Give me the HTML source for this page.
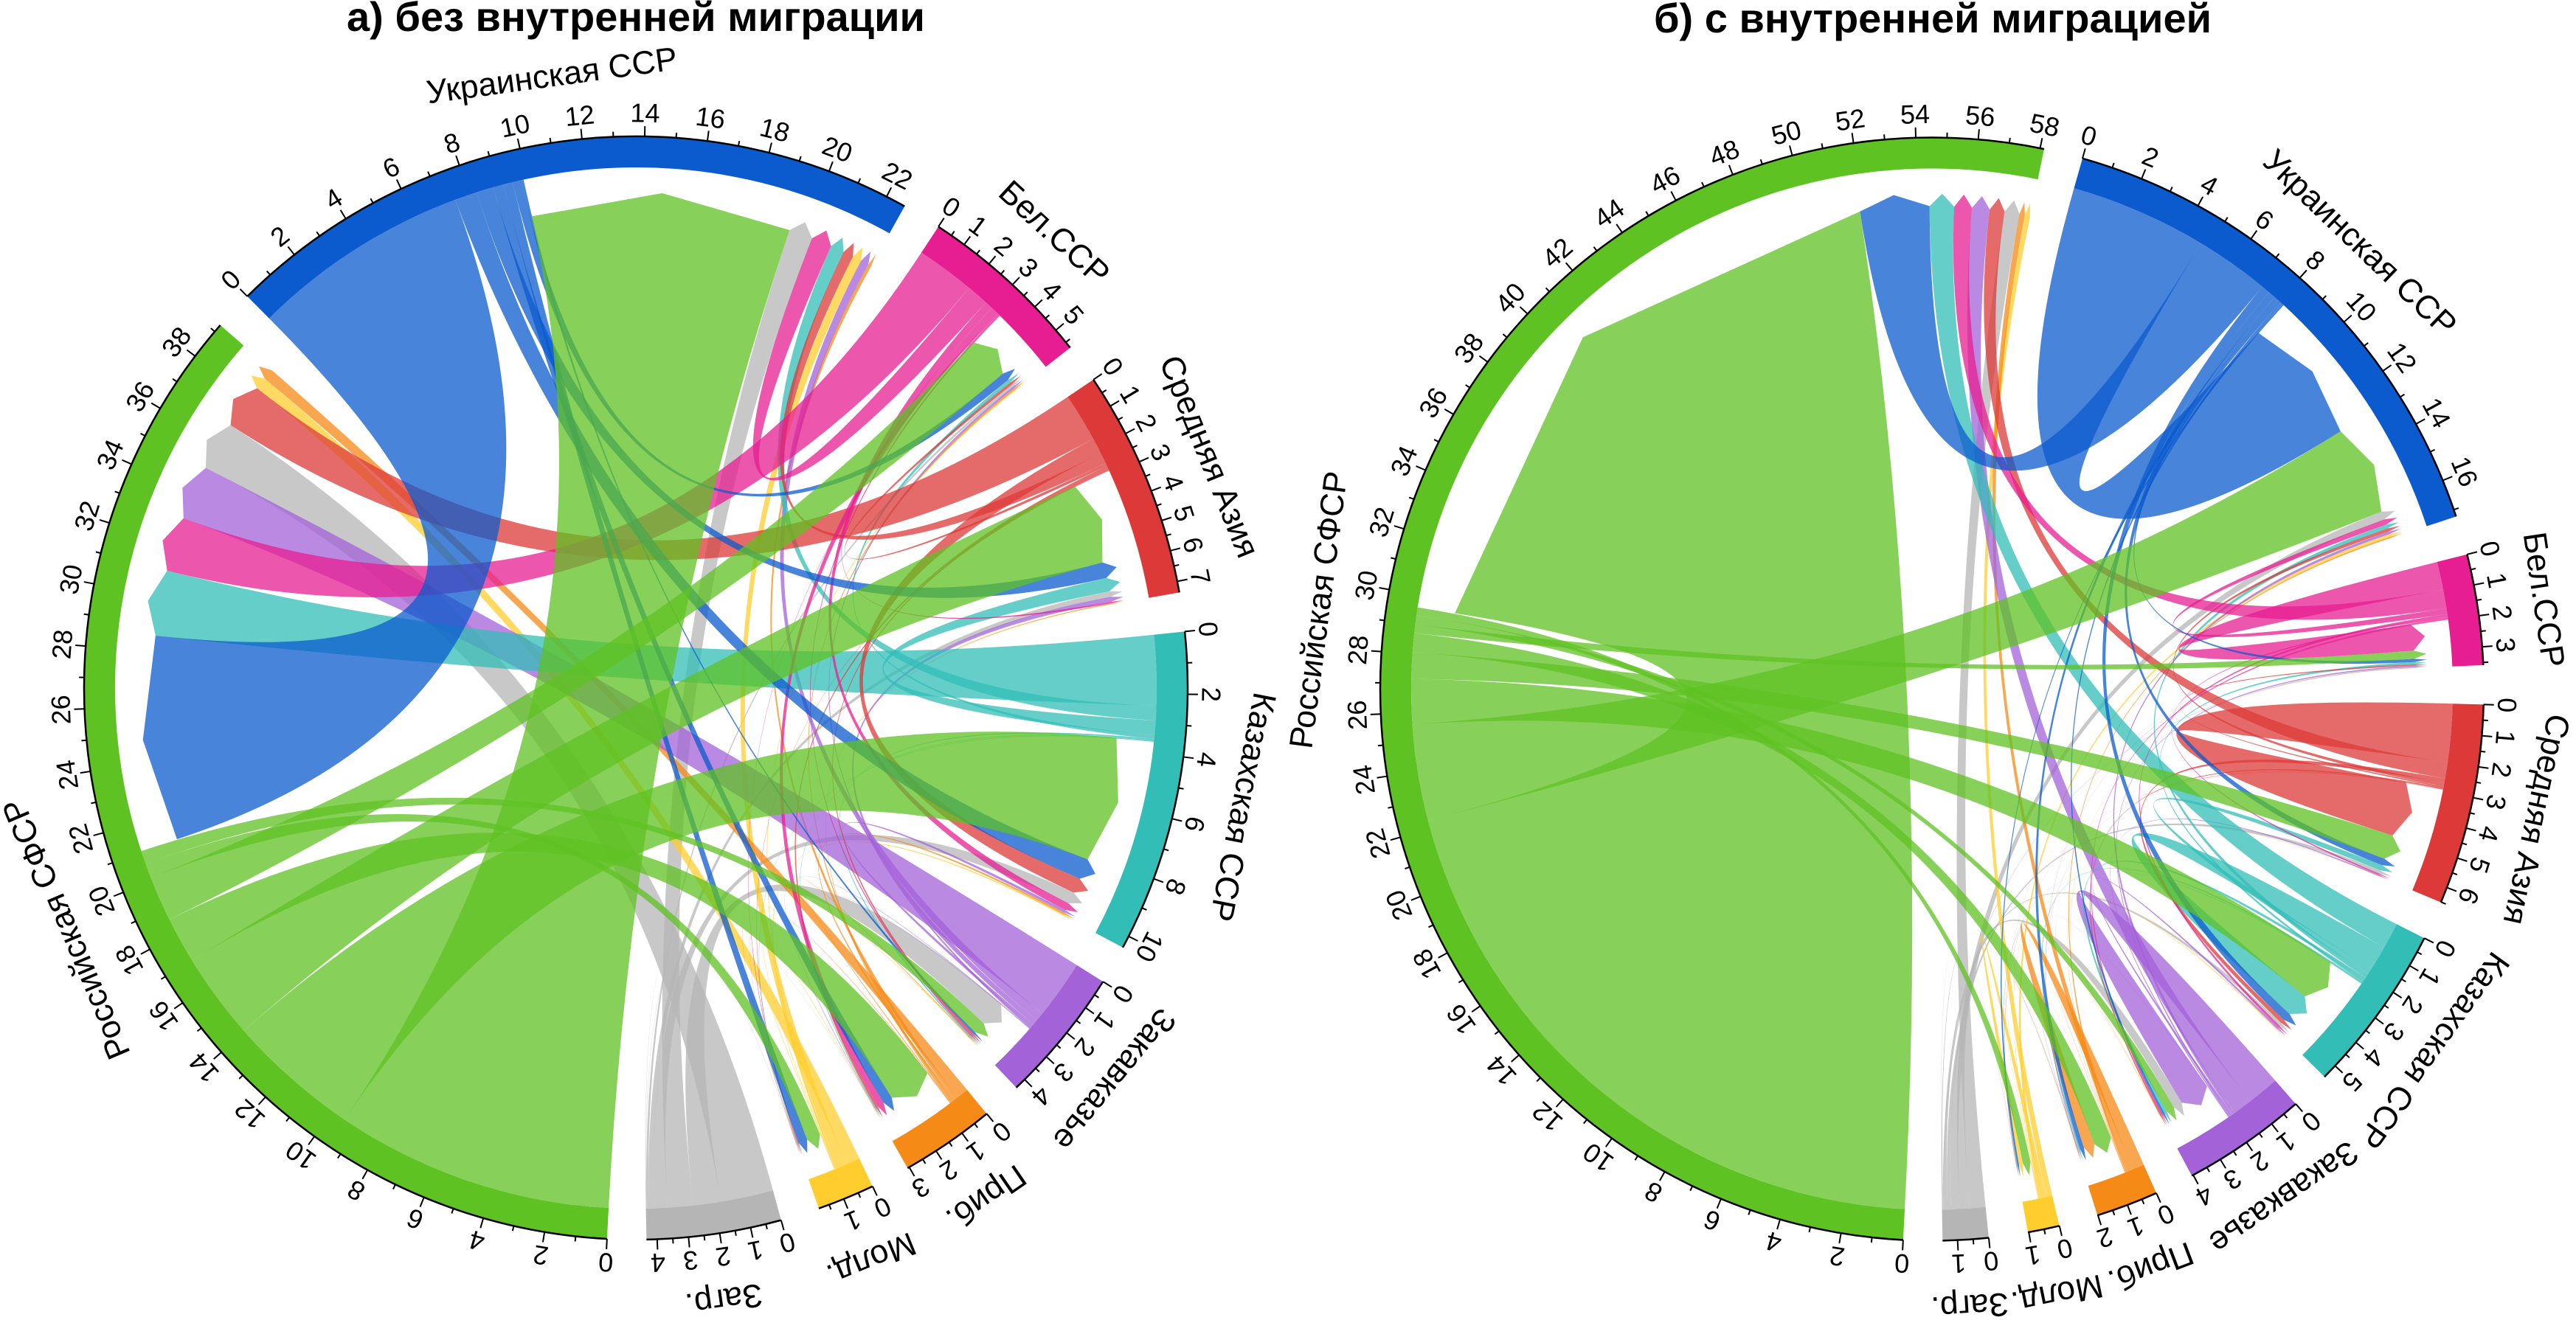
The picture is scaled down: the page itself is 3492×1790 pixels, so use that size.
<!DOCTYPE html>
<html lang="ru">
<head>
<meta charset="utf-8">
<title>Миграция: хордовые диаграммы</title>
<style>
html,body{margin:0;padding:0;background:#fff;}
svg{display:block;}
text{font-family:"Liberation Sans","Noto Sans CJK SC",sans-serif;fill:#000;}
.title{font-size:56px;font-weight:700;text-anchor:middle;}
.tick-label{font-size:36px;text-anchor:middle;dominant-baseline:central;}
.sector-label{font-size:44.5px;text-anchor:middle;dominant-baseline:central;}
</style>
</head>
<body>
<svg id="figure" xmlns="http://www.w3.org/2000/svg" width="3492" height="1790" viewBox="0 0 3492 1790">
  <text class="title" x="862" y="42">а) без внутренней миграции</text>
  <text class="title" x="2620" y="44">б) с внутренней миграцией</text>
  <g id="panelA"></g>
  <g id="panelB"></g>
</svg>
<script>
const sectorNames = ['Российская СФСР','Украинская ССР','Бел.ССР','Средняя Азия','Казахская ССР','Закавказье','Приб.','Молд.','Загр.'];
const sectorSlugs = ['russia','ukraine','belarus','central-asia','kazakhstan','caucasus','baltics','moldova','abroad'];
const sectorColors = ['#5FC223','#0B5BCE','#E71E92','#DC3938','#32BDB7','#A362D8','#F68A16','#FFCE2E','#B5B5B5'];

// Flows in % of total; rows = origin, columns = destination (same order as sectorNames)
const flowsWithoutInternal = [
  [0, 9.5, 1.55, 2.95, 4.55, .45, 1.57, .5, 0],
  [7.5, 0, .3, .58, .76, .08, .35, .33, 0],
  [2.0, .75, 0, .06, .27, .05, .25, .02, 0],
  [1.65, .38, .1, 0, .55, .07, .08, .02, 0],
  [2.4, .5, .12, .5, 0, .05, .03, .02, 0],
  [2.0, .3, .07, .18, .1, 0, .02, .01, 0],
  [.4, .12, .06, .03, .07, .03, 0, .02, 0],
  [.45, .33, .04, .01, .05, .02, .02, 0, 0],
  [1.8, .87, .08, .2, .43, .94, .01, .01, 0]
];
const flowsWithInternal = [
  [22.3, 3.3, .3, .9, 1.55, .3, .65, .28, 0],
  [2.55, 4.7, .12, .25, .3, .08, .15, .06, 0],
  [.65, .2, .95, .05, .08, .05, .01, .005, 0],
  [.55, .12, .05, 2.0, .15, .05, .01, .01, 0],
  [.9, .15, .08, .2, .85, .1, .05, .02, 0],
  [.65, .1, .05, .04, .07, 1.1, .01, 0, 0],
  [.2, .05, .01, .01, .01, .01, .4, .005, 0],
  [.2, .1, 0, 0, .02, .01, .01, .15, 0],
  [.55, .3, .03, .12, .11, .33, .03, .01, 0]
];
const tickStepsWithoutInternal = [2, 2, 1, 1, 2, 1, 1, 1, 1];
const tickStepsWithInternal = [2, 2, 1, 1, 1, 1, 1, 1, 1];

const SVG_NS = 'http://www.w3.org/2000/svg';
const GAP_DEG = 4.1, START_DEG = 183;
const R_OUTER = 748, R_INNER = 706, R_ARROW_BASE = 655, R_ARROW_TIP = 672;
const R_TICK_MAJOR = 762, R_TICK_MINOR = 755, R_TICK_LABEL = 780, R_NAME = 838;

function polar(cx, cy, r, deg) {
  const t = deg * Math.PI / 180;
  return [cx + r * Math.sin(t), cy - r * Math.cos(t)];
}
function fmt(p) { return p[0].toFixed(2) + ' ' + p[1].toFixed(2); }

function drawPanel(group, flows, tickSteps, cx, cy) {
  const n = flows.length;
  const outSum = flows.map(row => row.reduce((a, b) => a + b, 0));
  const inSum = flows[0].map((_, j) => flows.reduce((a, row) => a + row[j], 0));
  const totals = outSum.map((v, i) => v + inSum[i]);
  const grand = totals.reduce((a, b) => a + b, 0);
  const scale = (360 - n * GAP_DEG) / grand;

  const starts = [];
  let cursor = START_DEG;
  for (let i = 0; i < n; i++) { starts.push(cursor); cursor += totals[i] * scale + GAP_DEG; }

  // Allocate link ends: outgoing first, then incoming, each sorted by decreasing value
  const outPos = {}, inPos = {};
  for (let i = 0; i < n; i++) {
    let a = starts[i];
    const idxOut = flows[i].map((v, j) => j).filter(j => flows[i][j] > 0).sort((p, q) => flows[i][q] - flows[i][p]);
    idxOut.forEach(j => { const w = flows[i][j] * scale; outPos[i + '-' + j] = [a, a + w]; a += w; });
    const idxIn = flows.map((r, k) => k).filter(k => flows[k][i] > 0).sort((p, q) => flows[q][i] - flows[p][i]);
    idxIn.forEach(k => { const w = flows[k][i] * scale; inPos[k + '-' + i] = [a, a + w]; a += w; });
  }

  // Chords, drawn so that Russia ends on top
  for (let i = n - 1; i >= 0; i--) {
    for (let j = n - 1; j >= 0; j--) {
      if (!(flows[i][j] > 0)) continue;
      const a = outPos[i + '-' + j], b = inPos[i + '-' + j];
      const c = cx.toFixed(2) + ' ' + cy.toFixed(2);
      const d = 'M' + fmt(polar(cx, cy, R_INNER, a[0])) +
        'A' + R_INNER + ' ' + R_INNER + ' 0 0 1 ' + fmt(polar(cx, cy, R_INNER, a[1])) +
        'Q' + c + ' ' + fmt(polar(cx, cy, R_ARROW_BASE, b[0])) +
        'L' + fmt(polar(cx, cy, R_ARROW_TIP, (b[0] + b[1]) / 2)) +
        'L' + fmt(polar(cx, cy, R_ARROW_BASE, b[1])) +
        'Q' + c + ' ' + fmt(polar(cx, cy, R_INNER, a[0])) + 'Z';
      const chord = document.createElementNS(SVG_NS, 'path');
      chord.setAttribute('d', d);
      chord.setAttribute('fill', sectorColors[i]);
      chord.setAttribute('fill-opacity', '0.75');
      
      
      group.appendChild(chord);
    }
  }

  // Sectors, axes, ticks and labels
  for (let i = 0; i < n; i++) {
    const s = starts[i], e = s + totals[i] * scale;
    const large = (e - s) > 180 ? 1 : 0;

    const sector = document.createElementNS(SVG_NS, 'path');
    sector.setAttribute('d', 'M' + fmt(polar(cx, cy, R_OUTER, s)) +
      'A' + R_OUTER + ' ' + R_OUTER + ' 0 ' + large + ' 1 ' + fmt(polar(cx, cy, R_OUTER, e)) +
      'L' + fmt(polar(cx, cy, R_INNER, e)) +
      'A' + R_INNER + ' ' + R_INNER + ' 0 ' + large + ' 0 ' + fmt(polar(cx, cy, R_INNER, s)) + 'Z');
    sector.setAttribute('fill', sectorColors[i]);
    
    
    group.appendChild(sector);

    const axis = document.createElementNS(SVG_NS, 'path');
    axis.setAttribute('d', 'M' + fmt(polar(cx, cy, R_OUTER, s)) +
      'A' + R_OUTER + ' ' + R_OUTER + ' 0 ' + large + ' 1 ' + fmt(polar(cx, cy, R_OUTER, e)));
    axis.setAttribute('fill', 'none');
    axis.setAttribute('stroke', '#000');
    axis.setAttribute('stroke-width', '2.5');
    
    
    group.appendChild(axis);

    const minorStep = tickSteps[i] / 2;
    const count = Math.floor((totals[i] + 1e-6) / minorStep);
    for (let k = 0; k <= count; k++) {
      const value = k * minorStep;
      const ang = s + value * scale;
      const major = k % 2 === 0;
      const p0 = polar(cx, cy, R_OUTER, ang);
      const p1 = polar(cx, cy, major ? R_TICK_MAJOR : R_TICK_MINOR, ang);

      const tick = document.createElementNS(SVG_NS, 'line');
      tick.setAttribute('x1', p0[0].toFixed(2));
      tick.setAttribute('y1', p0[1].toFixed(2));
      tick.setAttribute('x2', p1[0].toFixed(2));
      tick.setAttribute('y2', p1[1].toFixed(2));
      tick.setAttribute('stroke', '#000');
      tick.setAttribute('stroke-width', '2');
      
      
      group.appendChild(tick);

      if (major) {
        const lp = polar(cx, cy, R_TICK_LABEL, ang);
        const label = document.createElementNS(SVG_NS, 'text');
        label.setAttribute('class', 'tick-label');
        label.setAttribute('x', lp[0].toFixed(2));
        label.setAttribute('y', lp[1].toFixed(2));
        label.setAttribute('transform', 'rotate(' + ang.toFixed(2) + ' ' + lp[0].toFixed(2) + ' ' + lp[1].toFixed(2) + ')');
        
        
        label.textContent = String(value);
        group.appendChild(label);
      }
    }

    const mid = (s + e) / 2;
    const np = polar(cx, cy, R_NAME, mid);
    const name = document.createElementNS(SVG_NS, 'text');
    name.setAttribute('class', 'sector-label');
    name.setAttribute('x', np[0].toFixed(2));
    name.setAttribute('y', np[1].toFixed(2));
    name.setAttribute('transform', 'rotate(' + mid.toFixed(2) + ' ' + np[0].toFixed(2) + ' ' + np[1].toFixed(2) + ')');
    
    
    name.textContent = sectorNames[i];
    group.appendChild(name);
  }
}

drawPanel(document.getElementById('panelA'), flowsWithoutInternal, tickStepsWithoutInternal, 862, 933);
drawPanel(document.getElementById('panelB'), flowsWithInternal, tickStepsWithInternal, 2619, 934.5);
</script>
</body>
</html>
